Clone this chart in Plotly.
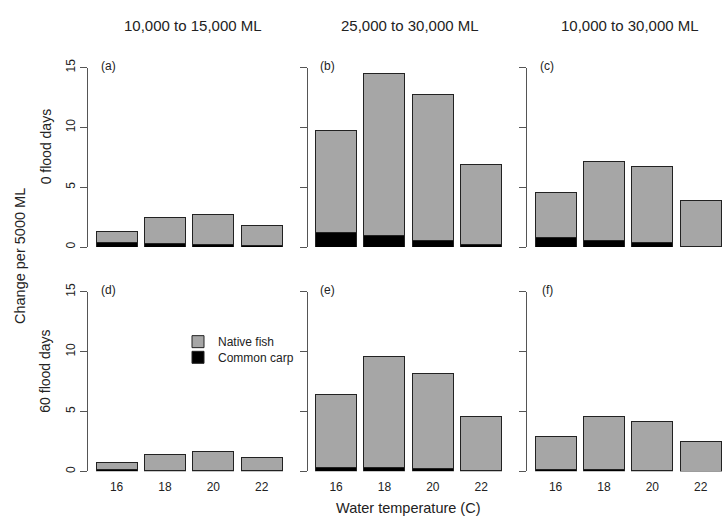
import plotly.graph_objects as go

# ---- data ----
temps = [16, 18, 20, 22]
temp_labels = ["16", "18", "20", "22"]
col_titles = ["10,000 to 15,000 ML", "25,000 to 30,000 ML", "10,000 to 30,000 ML"]
row_titles = ["0 flood days", "60 flood days"]
panel_labels = ["(a)", "(b)", "(c)", "(d)", "(e)", "(f)"]
y_ticks = [0, 5, 10, 15]

# native fish segment (stacked above carp) and common carp, per panel
native_a = [0.97, 2.16, 2.52, 1.70]
carp_a = [0.36, 0.28, 0.20, 0.10]
native_b = [8.53, 13.53, 12.25, 6.67]
carp_b = [1.19, 0.94, 0.53, 0.25]
native_c = [3.75, 6.64, 6.36, 3.81]
carp_c = [0.78, 0.53, 0.39, 0.08]
native_d = [0.61, 1.29, 1.59, 1.11]
carp_d = [0.14, 0.10, 0.05, 0.03]
native_e = [6.06, 9.28, 7.99, 4.53]
carp_e = [0.36, 0.30, 0.20, 0.03]
native_f = [2.77, 4.41, 4.14, 2.48]
carp_f = [0.17, 0.15, 0.05, 0.02]

natives = [native_a, native_b, native_c, native_d, native_e, native_f]
carps = [carp_a, carp_b, carp_c, carp_d, carp_e, carp_f]

# ---- layout helpers ----
W, H = 724, 522
FONT = "Liberation Sans, Arial, sans-serif"
GREY = "#A6A6A6"
AXC = "#555555"
TXT = "#222222"


def px(x):
    return x / W


def py_raw(y):
    return 1 - y / H


def py(y):
    # target pixel row -> paper coordinate (calibrated against the render)
    return 1 - ((y - 7.2) / 0.982) / H


col_axis_px = [88, 307.5, 527]
dom_w = 196
unit = 24.2
x0 = 14.82
xrange = [x0, x0 + dom_w / unit]
bar_w = 41 / unit
row_px = [(66, 246), (291, 471)]

fig = go.Figure()
leg_common = dict(xanchor="left", yanchor="top", bgcolor="rgba(0,0,0,0)",
                  font=dict(size=12, color=TXT), itemwidth=30)
layout = dict(
    width=W, height=H,
    margin=dict(l=0, r=0, t=0, b=0),
    paper_bgcolor="white", plot_bgcolor="white",
    barmode="stack",
    font=dict(family=FONT, size=12, color=TXT),
    showlegend=True,
    legend=dict(x=px(178), y=py_raw(325), **leg_common),
    legend2=dict(x=px(178), y=py_raw(341), **leg_common),
)

annotations = []
for i in range(6):
    r, c = divmod(i, 3)
    k = i + 1
    xa = "x" if k == 1 else f"x{k}"
    ya = "y" if k == 1 else f"y{k}"
    xl = "xaxis" if k == 1 else f"xaxis{k}"
    yl = "yaxis" if k == 1 else f"yaxis{k}"
    fig.add_trace(go.Bar(
        x=temps, y=carps[i], width=bar_w, xaxis=xa, yaxis=ya,
        marker=dict(color="black", line=dict(color="#222222", width=1)),
        name="Common carp", legend="legend2", showlegend=(i == 0),
    ))
    fig.add_trace(go.Bar(
        x=temps, y=natives[i], width=bar_w, xaxis=xa, yaxis=ya,
        marker=dict(color=GREY, line=dict(color="#222222", width=1)),
        name="Native fish", legend="legend", showlegend=(i == 0),
    ))
    left = col_axis_px[c]
    layout[xl] = dict(
        domain=[px(left), px(left + dom_w)], range=xrange, anchor=ya,
        showline=False, showgrid=False, zeroline=False,
        tickvals=temps, ticktext=temp_labels,
        showticklabels=(r == 1), ticks="outside" if r == 1 else "",
        ticklen=4, tickcolor="rgba(0,0,0,0)",
        tickfont=dict(size=12, color=TXT),
    )
    top, bot = row_px[r]
    layout[yl] = dict(
        domain=[py(bot), py(top)], range=[0, 15], anchor=xa,
        showline=True, linecolor=AXC, linewidth=1,
        showgrid=False, zeroline=False,
        tickvals=y_ticks, ticks="outside", ticklen=7, tickcolor=AXC,
        showticklabels=(c == 0), tickangle=-90,
        tickfont=dict(size=12, color=TXT),
    )
    annotations.append(dict(
        text=panel_labels[i], x=px(left + 20), y=py(top - 2), xref="paper", yref="paper",
        showarrow=False, xanchor="center", yanchor="middle",
        font=dict(size=12, color=TXT),
    ))

col_centers = [193, 410, 630]
for c in range(3):
    annotations.append(dict(
        text=col_titles[c], x=px(col_centers[c]), y=py(24), xref="paper", yref="paper",
        showarrow=False, xanchor="center", yanchor="middle",
        font=dict(size=15, color=TXT),
    ))

row_centers = [145.5, 370.5]
for r in range(2):
    annotations.append(dict(
        text=row_titles[r], x=px(45.5), y=py(row_centers[r]), xref="paper", yref="paper",
        showarrow=False, xanchor="center", yanchor="middle", textangle=-90,
        font=dict(size=14, color=TXT),
    ))

annotations.append(dict(
    text="Change per 5000 ML", x=px(20), y=py(255), xref="paper", yref="paper",
    showarrow=False, xanchor="center", yanchor="middle", textangle=-90,
    font=dict(size=14.5, color=TXT),
))
annotations.append(dict(
    text="Water temperature (C)", x=px(408), y=py(508), xref="paper", yref="paper",
    showarrow=False, xanchor="center", yanchor="middle",
    font=dict(size=14.5, color=TXT),
))

layout["annotations"] = annotations
fig.update_layout(**layout)
fig.write_html(
    "out.html",
    config={"displayModeBar": False},
    post_script="document.body.style.margin='0';document.body.style.overflow='hidden';",
)
